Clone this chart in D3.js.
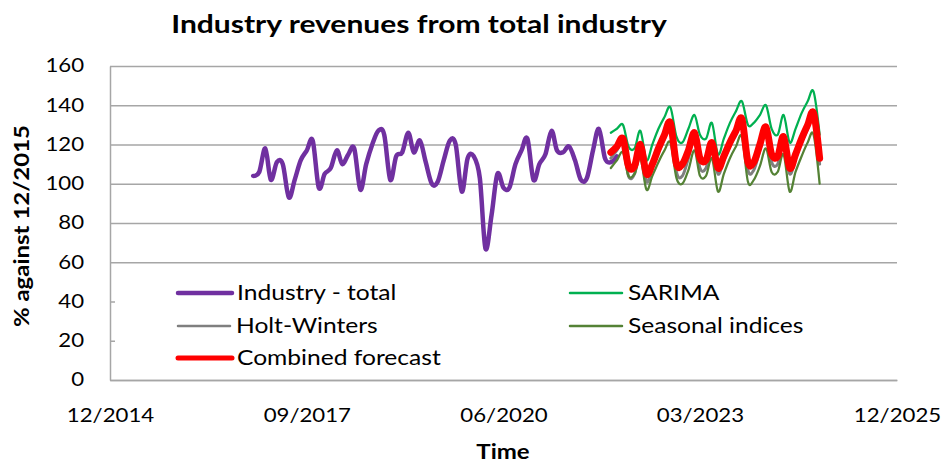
<!DOCTYPE html>
<html>
<head>
<meta charset="utf-8">
<script src="https://cdn.jsdelivr.net/npm/d3@7"></script>
<style>
  body { margin: 0; background: #fff; }
  svg { display: block; font-family: Lato, "Open Sans", sans-serif; }
</style>
</head>
<body>
<svg id="chart" width="942" height="463"></svg>
<script>
// history: monthly, from 12/2016
const historyStart = new Date(2016, 11, 1);
const industryTotal = [104, 106, 118, 102, 111, 110, 93, 102, 112, 117, 122, 98,
  105, 108, 117, 110, 115, 118, 97, 110, 120, 127, 125, 102,
  114, 116, 126, 116, 122, 111, 100, 101, 112, 122, 120, 96,
  113, 114, 103, 67, 84, 105, 98, 98, 110, 117, 123, 102,
  110, 115, 127, 117, 116, 119, 112, 102, 103, 117, 128, 113,
  111, 114];

// forecasts: monthly, from 12/2021
const forecastStart = new Date(2021, 11, 1);
const sarima = [126, 128, 130, 119, 118, 127, 112, 120, 128, 134, 139, 124,
  121, 128, 135, 125, 123, 131, 115, 123, 131, 137, 142, 130,
  131, 135, 140, 128, 125, 135, 121, 128, 136, 142, 147, 125];
const holtWinters = [113, 117, 121, 104, 105, 118, 101, 108, 116, 123, 129, 106,
  104, 113, 124, 108, 108, 119, 105, 112, 119, 125, 131, 107,
  107, 117, 127, 111, 110, 121, 105, 113, 121, 128, 134, 110];
const seasonalIndices = [108, 112, 116, 104, 105, 113, 97, 104, 111, 117, 121, 103,
  100, 107, 117, 104, 104, 113, 96, 105, 113, 119, 124, 101,
  102, 109, 118, 106, 106, 115, 96, 106, 114, 121, 125, 100];
const combined = [116, 119, 123, 109, 109, 120, 105, 110, 118, 125, 131, 110,
  110, 117, 126, 113, 112, 121, 108, 114, 121, 127, 133, 111,
  111, 120, 129, 115, 114, 124, 108, 115, 123, 130, 136, 113];

const xTicks = ['12/2014', '09/2017', '06/2020', '03/2023', '12/2025'];
const yTicks = [0, 20, 40, 60, 80, 100, 120, 140, 160];

const parseMonth = d3.timeParse('%m/%Y');
const toPoints = (start, values) =>
  values.map((v, i) => ({ date: d3.timeMonth.offset(start, i), value: v }));

const series = [
  { name: 'Industry - total', data: toPoints(historyStart, industryTotal), color: '#7030a0', width: 4.5 },
  { name: 'SARIMA', data: toPoints(forecastStart, sarima), color: '#00b050', width: 2.25 },
  { name: 'Holt-Winters', data: toPoints(forecastStart, holtWinters), color: '#7f7f7f', width: 3 },
  { name: 'Seasonal indices', data: toPoints(forecastStart, seasonalIndices), color: '#548235', width: 2.25 },
  { name: 'Combined forecast', data: toPoints(forecastStart, combined), color: '#ff0000', width: 7 }
];

const margin = { left: 110, right: 45, top: 66, bottom: 83 };
const svg = d3.select('#chart');
const W = +svg.attr('width'), H = +svg.attr('height');
const sx = 1.2; // text looks stretched sideways in the original

const x = d3.scaleTime()
  .domain(d3.extent(xTicks, parseMonth))
  .range([margin.left, W - margin.right]);
const y = d3.scaleLinear()
  .domain([0, 160])
  .range([H - margin.bottom, margin.top]);

// gridlines
svg.append('g')
  .attr('transform', `translate(${margin.left},0)`)
  .call(d3.axisLeft(y).tickValues(yTicks).tickSize(-(W - margin.left - margin.right)).tickFormat(''))
  .call(g => g.select('.domain').remove())
  .call(g => g.selectAll('line').attr('stroke', '#a6a6a6').attr('stroke-width', 1.5));

// y axis
svg.append('g')
  .attr('transform', `translate(${margin.left},0)`)
  .call(d3.axisLeft(y).tickValues(yTicks).tickSize(0).tickPadding(26))
  .call(g => g.select('.domain').attr('stroke', '#a6a6a6').attr('stroke-width', 1.5))
  .call(g => g.selectAll('text')
    .attr('font-family', 'Lato').attr('font-size', 18.5).attr('fill', '#000')
    .attr('transform', `scale(${sx},1)`).attr('x', -26 / sx));

// x axis
svg.append('g')
  .attr('transform', `translate(0,${H - margin.bottom})`)
  .call(d3.axisBottom(x).tickValues(xTicks.map(parseMonth)).tickSize(0).tickPadding(0)
    .tickFormat(d3.timeFormat('%m/%Y')))
  .call(g => g.select('.domain').attr('stroke', '#a6a6a6').attr('stroke-width', 1.5))
  .call(g => g.selectAll('.tick text')
    .attr('font-family', 'Lato').attr('font-size', 18.5).attr('fill', '#000')
    .attr('dy', null).attr('y', 0)
    .attr('transform', `translate(0,42) scale(${sx},1)`));

// lines
const line = d3.line()
  .x(d => x(d.date))
  .y(d => y(d.value))
  .curve(d3.curveCatmullRom.alpha(0));

svg.append('g').selectAll('path')
  .data(series)
  .join('path')
    .attr('d', d => line(d.data))
    .attr('fill', 'none')
    .attr('stroke', d => d.color)
    .attr('stroke-width', d => d.width)
    .attr('stroke-linejoin', 'round')
    .attr('stroke-linecap', 'round');

// legend (white box hides the lower gridlines)
const legend = svg.append('g');
legend.append('rect')
  .attr('x', 115).attr('y', 274)
  .attr('width', W - margin.right - 115).attr('height', 104)
  .attr('fill', '#fff');

const legendPos = [[178, 293], [570, 293], [178, 326], [570, 326], [178, 358]];
const item = legend.selectAll('g.item')
  .data(series)
  .join('g')
    .attr('class', 'item')
    .attr('transform', (d, i) => `translate(${legendPos[i][0]},${legendPos[i][1]})`);
item.append('line')
  .attr('x1', 0).attr('x2', d => d.width > 4 ? 54 : 52)
  .attr('stroke', d => d.color)
  .attr('stroke-width', d => d.width > 4 ? Math.min(d.width, 5) : 2.5)
  .attr('stroke-linecap', 'round');
item.append('text')
  .attr('transform', d => `translate(${d.width > 4 ? 59 : 58},0) scale(${sx},1)`)
  .attr('dy', '0.35em')
  .attr('font-family', 'Lato').attr('font-size', 20.5)
  .text(d => d.name);

// titles
svg.append('text')
  .attr('transform', `translate(419,24) scale(${sx},1)`)
  .attr('text-anchor', 'middle').attr('dy', '0.35em')
  .attr('font-weight', 'bold').attr('font-size', 25)
  .text('Industry revenues from total industry');

svg.append('text')
  .attr('transform', `translate(503,452) scale(${sx},1)`)
  .attr('text-anchor', 'middle').attr('dy', '0.35em')
  .attr('font-weight', 'bold').attr('font-size', 20)
  .text('Time');

svg.append('text')
  .attr('transform', `translate(22,226) rotate(-90) scale(${sx},1)`)
  .attr('text-anchor', 'middle').attr('dy', '0.35em')
  .attr('font-weight', 'bold').attr('font-size', 20)
  .text('% against 12/2015');
</script>
</body>
</html>
